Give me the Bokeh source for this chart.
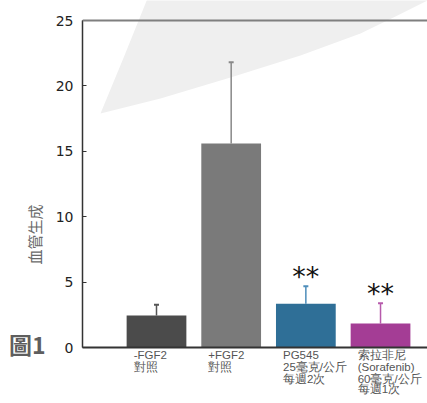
import math
from bokeh.plotting import figure
from bokeh.models import Range1d, FixedTicker, Span, ColumnDataSource, LinearAxis, Title
from bokeh.core.properties import value
from bokeh.embed import file_html
from bokeh.resources import INLINE

# ---- data ----
categories = ["-FGF2\n對照", "+FGF2\n對照", "PG545\n25毫克/公斤\n每週2次",
              "索拉非尼\n(Sorafenib)\n60毫克/公斤\n每週1次"]
values = [2.45, 15.6, 3.35, 1.83]
errors = [0.82, 6.2, 1.33, 1.55]
significance = ["", "", "**", "**"]
y_ticks = [0, 5, 10, 15, 20, 25]
y_title = "血管生成"
fig_tag = "圖1"

bar_colors = ["#4b4b4b", "#7a7a7a", "#2f6f97", "#a43d95"]
err_colors = ["#555555", "#888888", "#4d8dba", "#b65aab"]

W, H = 427, 403
xs = list(range(len(values)))
x_start, x_end = -0.991, 3.629
y_start, y_end = 0, 26.53

p = figure(width=W, height=H, output_backend="svg", toolbar_location=None,
           x_range=Range1d(x_start, x_end), y_range=Range1d(y_start, y_end),
           min_border_left=82, min_border_right=0, min_border_top=0, min_border_bottom=56)
p.outline_line_color = None
p.grid.visible = False
p.background_fill_color = "white"
p.border_fill_color = "white"

# decorative light-grey swoosh (page px -> data)
frame_l, frame_b = 82, 347
px_per_x = 345 / (x_end - x_start)
px_per_y = 347 / (y_end - y_start)
def to_data(px, py):
    return ((px - frame_l) / px_per_x + x_start, (frame_b - py) / px_per_y)
sw_pts = [(100, 113), (124, 55), (147, -2), (440, -2), (427, 0), (395, 16),
          (360, 33), (300, 55), (230, 77), (160, 98)]
sw = [to_data(a, b) for a, b in sw_pts]
p.patch([a for a, b in sw], [b for a, b in sw], fill_color="#efefef", line_color=None)

p.add_layout(Span(location=25, dimension="width", line_color="#7f7f7f", line_width=2))

src = ColumnDataSource(dict(x=xs, top=values, color=bar_colors, ecolor=err_colors,
                            etop=[v + e for v, e in zip(values, errors)],
                            sig=significance))
p.segment(x0="x", y0="top", x1="x", y1="etop", source=src, line_color="ecolor", line_width=1.5)
p.scatter(x="x", y="etop", source=src, marker="dash", size=5, line_color="ecolor", line_width=2)
p.vbar(x="x", top="top", width=0.8, bottom=0, source=src, fill_color="color", line_color=None)
p.text(x="x", y="etop", text="sig", source=src, text_align="center", text_baseline="alphabetic",
       text_font=value("DejaVu Sans"), text_font_size="27px", text_color="#111111", y_offset=-10)

# main y axis
ya = p.yaxis[0]
ya.ticker = FixedTicker(ticks=y_ticks)
ya.bounds = (0, 25)
ya.axis_line_color = "#333333"
ya.axis_line_width = 1.5
ya.major_tick_in = 4
ya.major_tick_out = 0
ya.major_tick_line_color = "#333333"
ya.minor_tick_line_color = None
ya.major_label_standoff = 9
ya.major_label_text_font = "DejaVu Sans"
ya.major_label_text_font_size = "14px"
ya.major_label_text_color = "#222222"

# y title
p.add_layout(Title(text=y_title, align="left", offset=83, standoff=15,
                   text_font="Noto Sans CJK TC", text_font_size="15px",
                   text_font_style="normal", text_color="#6a6a6a"), "left")

# figure tag on an invisible axis
tag_at = 0.3
fa = LinearAxis(ticker=FixedTicker(ticks=[tag_at]), major_label_overrides={tag_at: fig_tag},
                axis_line_color=None, major_tick_line_color=None, minor_tick_line_color=None,
                major_tick_in=0, major_tick_out=0,
                major_label_standoff=-31, major_label_text_font="Noto Sans CJK TC",
                major_label_text_font_size="23px", major_label_text_font_style="bold",
                major_label_text_color="#5e5e5e")
p.add_layout(fa, "left")

# x axis: category labels, one axis per text row so that lines are left-aligned
lab_pos = [round(i - 0.306, 3) for i in xs]
rows = [c.split("\n") for c in categories]
n_rows = max(len(r) for r in rows)
standoffs = [7, -3, -3, -5]
for k in range(n_rows):
    if k == 0:
        ax = p.xaxis[0]
        ax.axis_line_color = "#333333"
        ax.axis_line_width = 2
    else:
        ax = LinearAxis(axis_line_color=None)
        p.add_layout(ax, "below")
    ax.ticker = FixedTicker(ticks=lab_pos)
    ax.major_label_overrides = {pos: (r[k] if k < len(r) else " ") for pos, r in zip(lab_pos, rows)}
    ax.major_label_orientation = -0.0001
    ax.major_label_text_font = "Liberation Sans"
    ax.major_label_text_font_size = "11.5px"
    ax.major_label_text_color = "#555555"
    ax.major_label_standoff = standoffs[k]
    ax.major_tick_in = 0
    ax.major_tick_out = 0
    ax.major_tick_line_color = None
    ax.minor_tick_line_color = None

open("out.html", "w").write(file_html(p, INLINE))
